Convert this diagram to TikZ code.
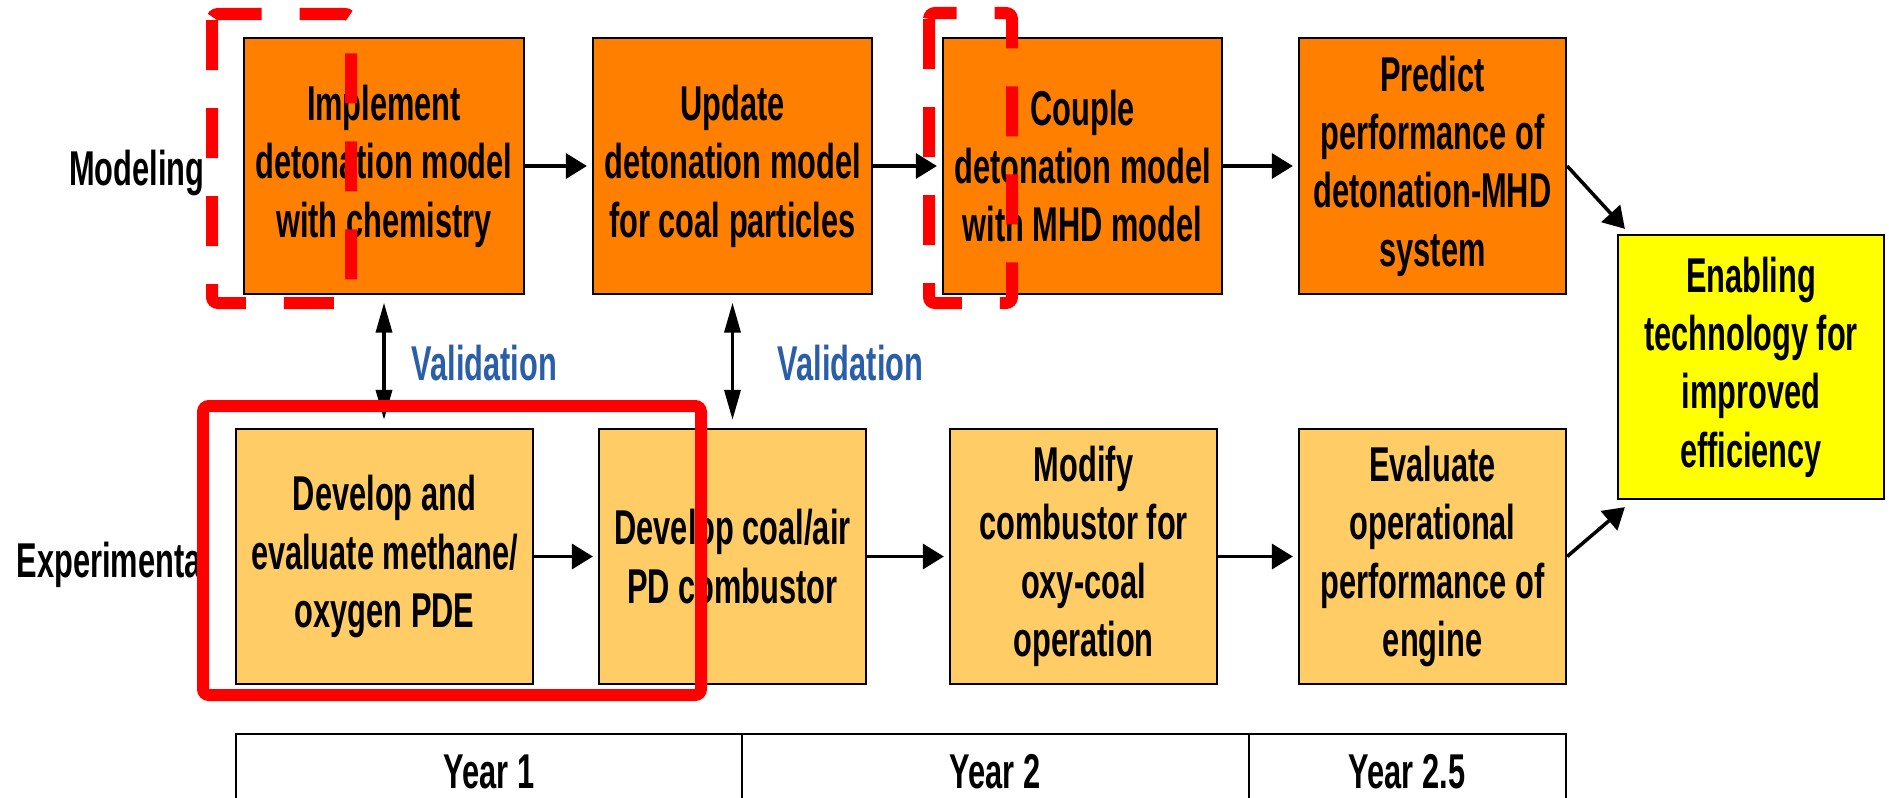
\documentclass[tikz,border=0pt]{standalone}
\usepackage{fontspec}
\setmainfont{Liberation Sans}[FakeStretch=0.63]
\usetikzlibrary{arrows.meta}
\definecolor{carrot}{RGB}{255, 128, 0}
\definecolor{sunflower}{RGB}{255, 204, 102}
\definecolor{lemon}{RGB}{255, 255, 0}
\definecolor{scarlet}{RGB}{255, 0, 0}
\definecolor{belize}{RGB}{42, 94, 168}

\begin{document}
\begin{tikzpicture}[x=0.01cm, y=-0.01cm, inner sep=0pt,
        font=\fontsize{13.9}{16.6}\selectfont\bfseries,
        task/.style={draw=black, line width=0.6pt, align=center, minimum height=2.55cm},
        model/.style={task, fill=carrot, minimum width=2.79cm},
        test/.style={task, fill=sunflower, minimum width=2.67cm},
        flow/.style={-{Triangle[length=0.21cm, width=0.25cm]}, line width=1pt, shorten >=0.05cm},
        check/.style={{Triangle[length=0.3cm, width=0.16cm]}-{Triangle[length=0.3cm, width=0.16cm]},
                      line width=1pt, shorten >=0.08cm, shorten <=0.08cm},
        marker/.style={draw=scarlet, line width=0.12cm, rounded corners=0.06cm},
        gap/.style={dash pattern=on 0.5cm off 0.38cm}]
    \useasboundingbox (0,0) rectangle (1889,797);

    % modeling track
    \node[model, minimum width=2.80cm] (impl) at ( 384.0,166) {Implement\\detonation model\\with chemistry};
    \node[model]                       (upd)  at ( 732.5,166) {Update\\detonation model\\for coal particles};
    \node[model]                       (cpl)  at (1082.5,166) {Couple\\detonation model\\with MHD model};
    \node[model, minimum width=2.67cm] (pred) at (1432.5,166) {Predict\\performance of\\detonation-MHD\\system};

    % experimental track
    \node[test, minimum width=2.97cm]  (pde)  at ( 384.5,556.5) {Develop and\\evaluate methane/\\oxygen PDE};
    \node[test]                        (comb) at ( 732.5,556.5) {Develop coal/air\\PD combustor};
    \node[test]                        (oxy)  at (1083.5,556.5) {Modify\\combustor for\\oxy-coal\\operation};
    \node[test]                        (eval) at (1432.5,556.5) {Evaluate\\operational\\performance of\\engine};

    \node[task, fill=lemon, minimum width=2.66cm, minimum height=2.64cm] (goal) at (1751,367)
        {Enabling\\technology for\\improved\\efficiency};

    \node[anchor=base east] (modl) at (205,185) {Modeling};
    \node[anchor=base west] (expl) at (16,577) {Experimental};
    \node[anchor=base west, text=belize] (val1) at (411,380) {Validation};
    \node[anchor=base west, text=belize] (val2) at (777,380) {Validation};

    \draw[flow] (impl) -- (upd);
    \draw[flow] (upd) -- (cpl);
    \draw[flow] (cpl) -- (pred);
    \draw[flow] (pde) -- (comb);
    \draw[flow] (comb) -- (oxy);
    \draw[flow] (oxy) -- (eval);
    \draw[flow, shorten >=0pt] (pred.east) -- ([xshift=0.08cm, yshift=0.05cm]goal.north west);
    \draw[flow, shorten >=0pt] (eval.east) -- ([xshift=0.08cm, yshift=-0.07cm]goal.south west);

    \draw[check] (impl.south) -- (impl.south |- pde.north);
    \draw[check] (upd.south) -- (upd.south |- comb.north);

    % timeline
    \draw[line width=0.6pt] (236,800) |- (1566,734) -- (1566,800);
    \draw[line width=0.6pt] (742,734) -- (742,800);
    \draw[line width=0.6pt] (1249,734) -- (1249,800);
    \node[anchor=base] (yr1)  at ( 489,788) {Year 1};
    \node[anchor=base] (yr2)  at ( 995,788) {Year 2};
    \node[anchor=base] (yr25) at (1407,788) {Year 2.5};

    % highlights
    \draw[marker] (203,406) rectangle (701,695);
    \draw[marker, gap] (212,14) rectangle (351,303);
    \draw[marker, gap] (929,13) rectangle (1012,303);
\end{tikzpicture}
\end{document}
